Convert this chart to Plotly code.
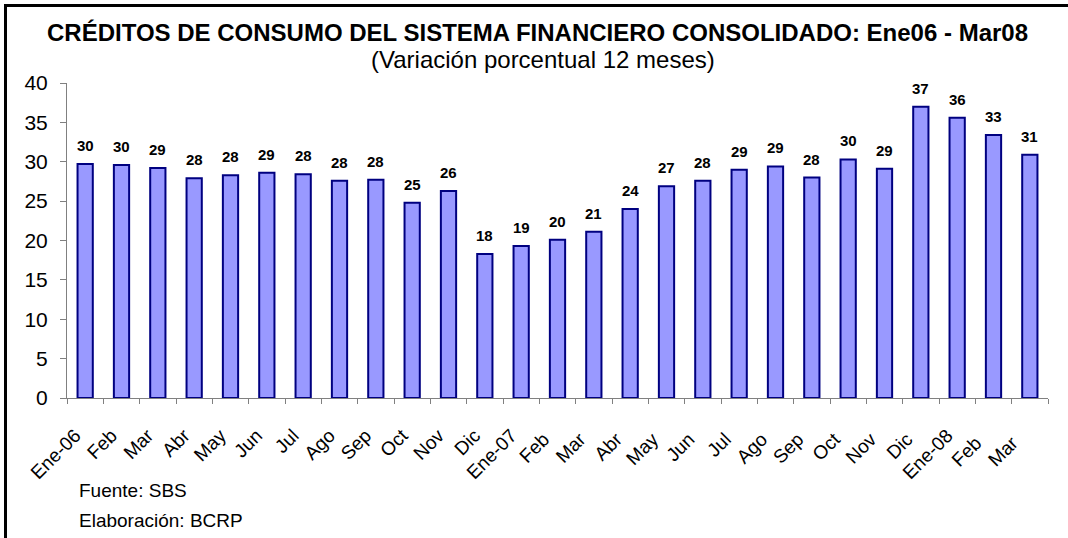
import plotly.graph_objects as go

# ---- data ----
categories = ["Ene-06", "Feb", "Mar", "Abr", "May", "Jun", "Jul", "Ago", "Sep", "Oct", "Nov", "Dic",
              "Ene-07", "Feb ", "Mar ", "Abr ", "May ", "Jun ", "Jul ", "Ago ", "Sep ", "Oct ", "Nov ", "Dic ",
              "Ene-08", "Feb  ", "Mar  "]
values = [29.7, 29.6, 29.2, 27.9, 28.3, 28.6, 28.4, 27.6, 27.7, 24.8, 26.3, 18.3,
          19.3, 20.1, 21.1, 24.0, 26.9, 27.6, 29.0, 29.4, 28.0, 30.3, 29.1, 37.0,
          35.6, 33.4, 30.9]
y_ticks = [0, 5, 10, 15, 20, 25, 30, 35, 40]

title_text = "<b>CRÉDITOS DE CONSUMO DEL SISTEMA FINANCIERO CONSOLIDADO: Ene06 - Mar08</b>"
subtitle_text = "(Variación porcentual 12 meses)"
source_text = "Fuente: SBS"
made_text = "Elaboración: BCRP"

# ---- geometry ----
W, H = 1068, 538
ML, MR, MT, MB = 67, 20, 83, 140
PW, PH = W - ML - MR, H - MT - MB
FONT = "Arial, 'Liberation Sans', sans-serif"


def px(x):
    return (x - ML) / PW


def py(y):
    return (H - MB - y) / PH


fig = go.Figure()
fig.add_trace(go.Bar(
    x=categories, y=values,
    marker=dict(color="#9999FF", line=dict(color="#000080", width=2)),
    hoverinfo="x+y",
))

annotations = []
for c, v in zip(categories, values):
    annotations.append(dict(
        x=c, y=v, xref="x", yref="y", text="<b>%d</b>" % round(v),
        showarrow=False, yanchor="bottom", yshift=8,
        font=dict(family=FONT, size=15, color="black"),
    ))

annotations += [
    dict(x=px(537), y=py(33), xref="paper", yref="paper", text=title_text, showarrow=False,
         xanchor="center", yanchor="middle", font=dict(family=FONT, size=24, color="black")),
    dict(x=px(543), y=py(59), xref="paper", yref="paper", text=subtitle_text, showarrow=False,
         xanchor="center", yanchor="middle", font=dict(family=FONT, size=24, color="black")),
    dict(x=px(77), y=py(490), xref="paper", yref="paper", text=source_text, showarrow=False,
         xanchor="left", yanchor="middle", font=dict(family=FONT, size=19, color="black")),
    dict(x=px(77), y=py(520), xref="paper", yref="paper", text=made_text, showarrow=False,
         xanchor="left", yanchor="middle", font=dict(family=FONT, size=19, color="black")),
]

shapes = [
    dict(type="line", xref="paper", yref="paper", x0=px(5.5), x1=px(5.5), y0=py(H + 5), y1=py(5.5),
         line=dict(color="black", width=3)),
    dict(type="line", xref="paper", yref="paper", x0=px(4), x1=px(W + 10), y0=py(5.5), y1=py(5.5),
         line=dict(color="black", width=3)),
]

fig.update_layout(
    width=W, height=H,
    margin=dict(l=ML, r=MR, t=MT, b=MB, autoexpand=False),
    paper_bgcolor="white", plot_bgcolor="white",
    showlegend=False,
    bargap=0.58,
    font=dict(family=FONT, color="black"),
    annotations=annotations,
    shapes=shapes,
    xaxis=dict(
        type="category", tickangle=-45, tickson="boundaries",
        ticks="outside", ticklen=5, tickcolor="#808080", tickwidth=1,
        showline=True, linecolor="#808080", linewidth=1,
        showgrid=False, tickfont=dict(family=FONT, size=19, color="black"),
        ticklabelstandoff=18, ticklabelshift=-10,
        fixedrange=True,
    ),
    yaxis=dict(
        range=[0, 40], tickvals=y_ticks, ticks="outside", ticklen=6,
        tickcolor="#808080", showline=True, linecolor="#808080", linewidth=1,
        showgrid=False, zeroline=False, ticklabelstandoff=8,
        tickfont=dict(family=FONT, size=21, color="black"),
        fixedrange=True,
    ),
)

fig.write_html(
    "out.html",
    config={"displayModeBar": False},
    post_script="document.body.style.margin='0';document.body.style.overflow='hidden';",
)
